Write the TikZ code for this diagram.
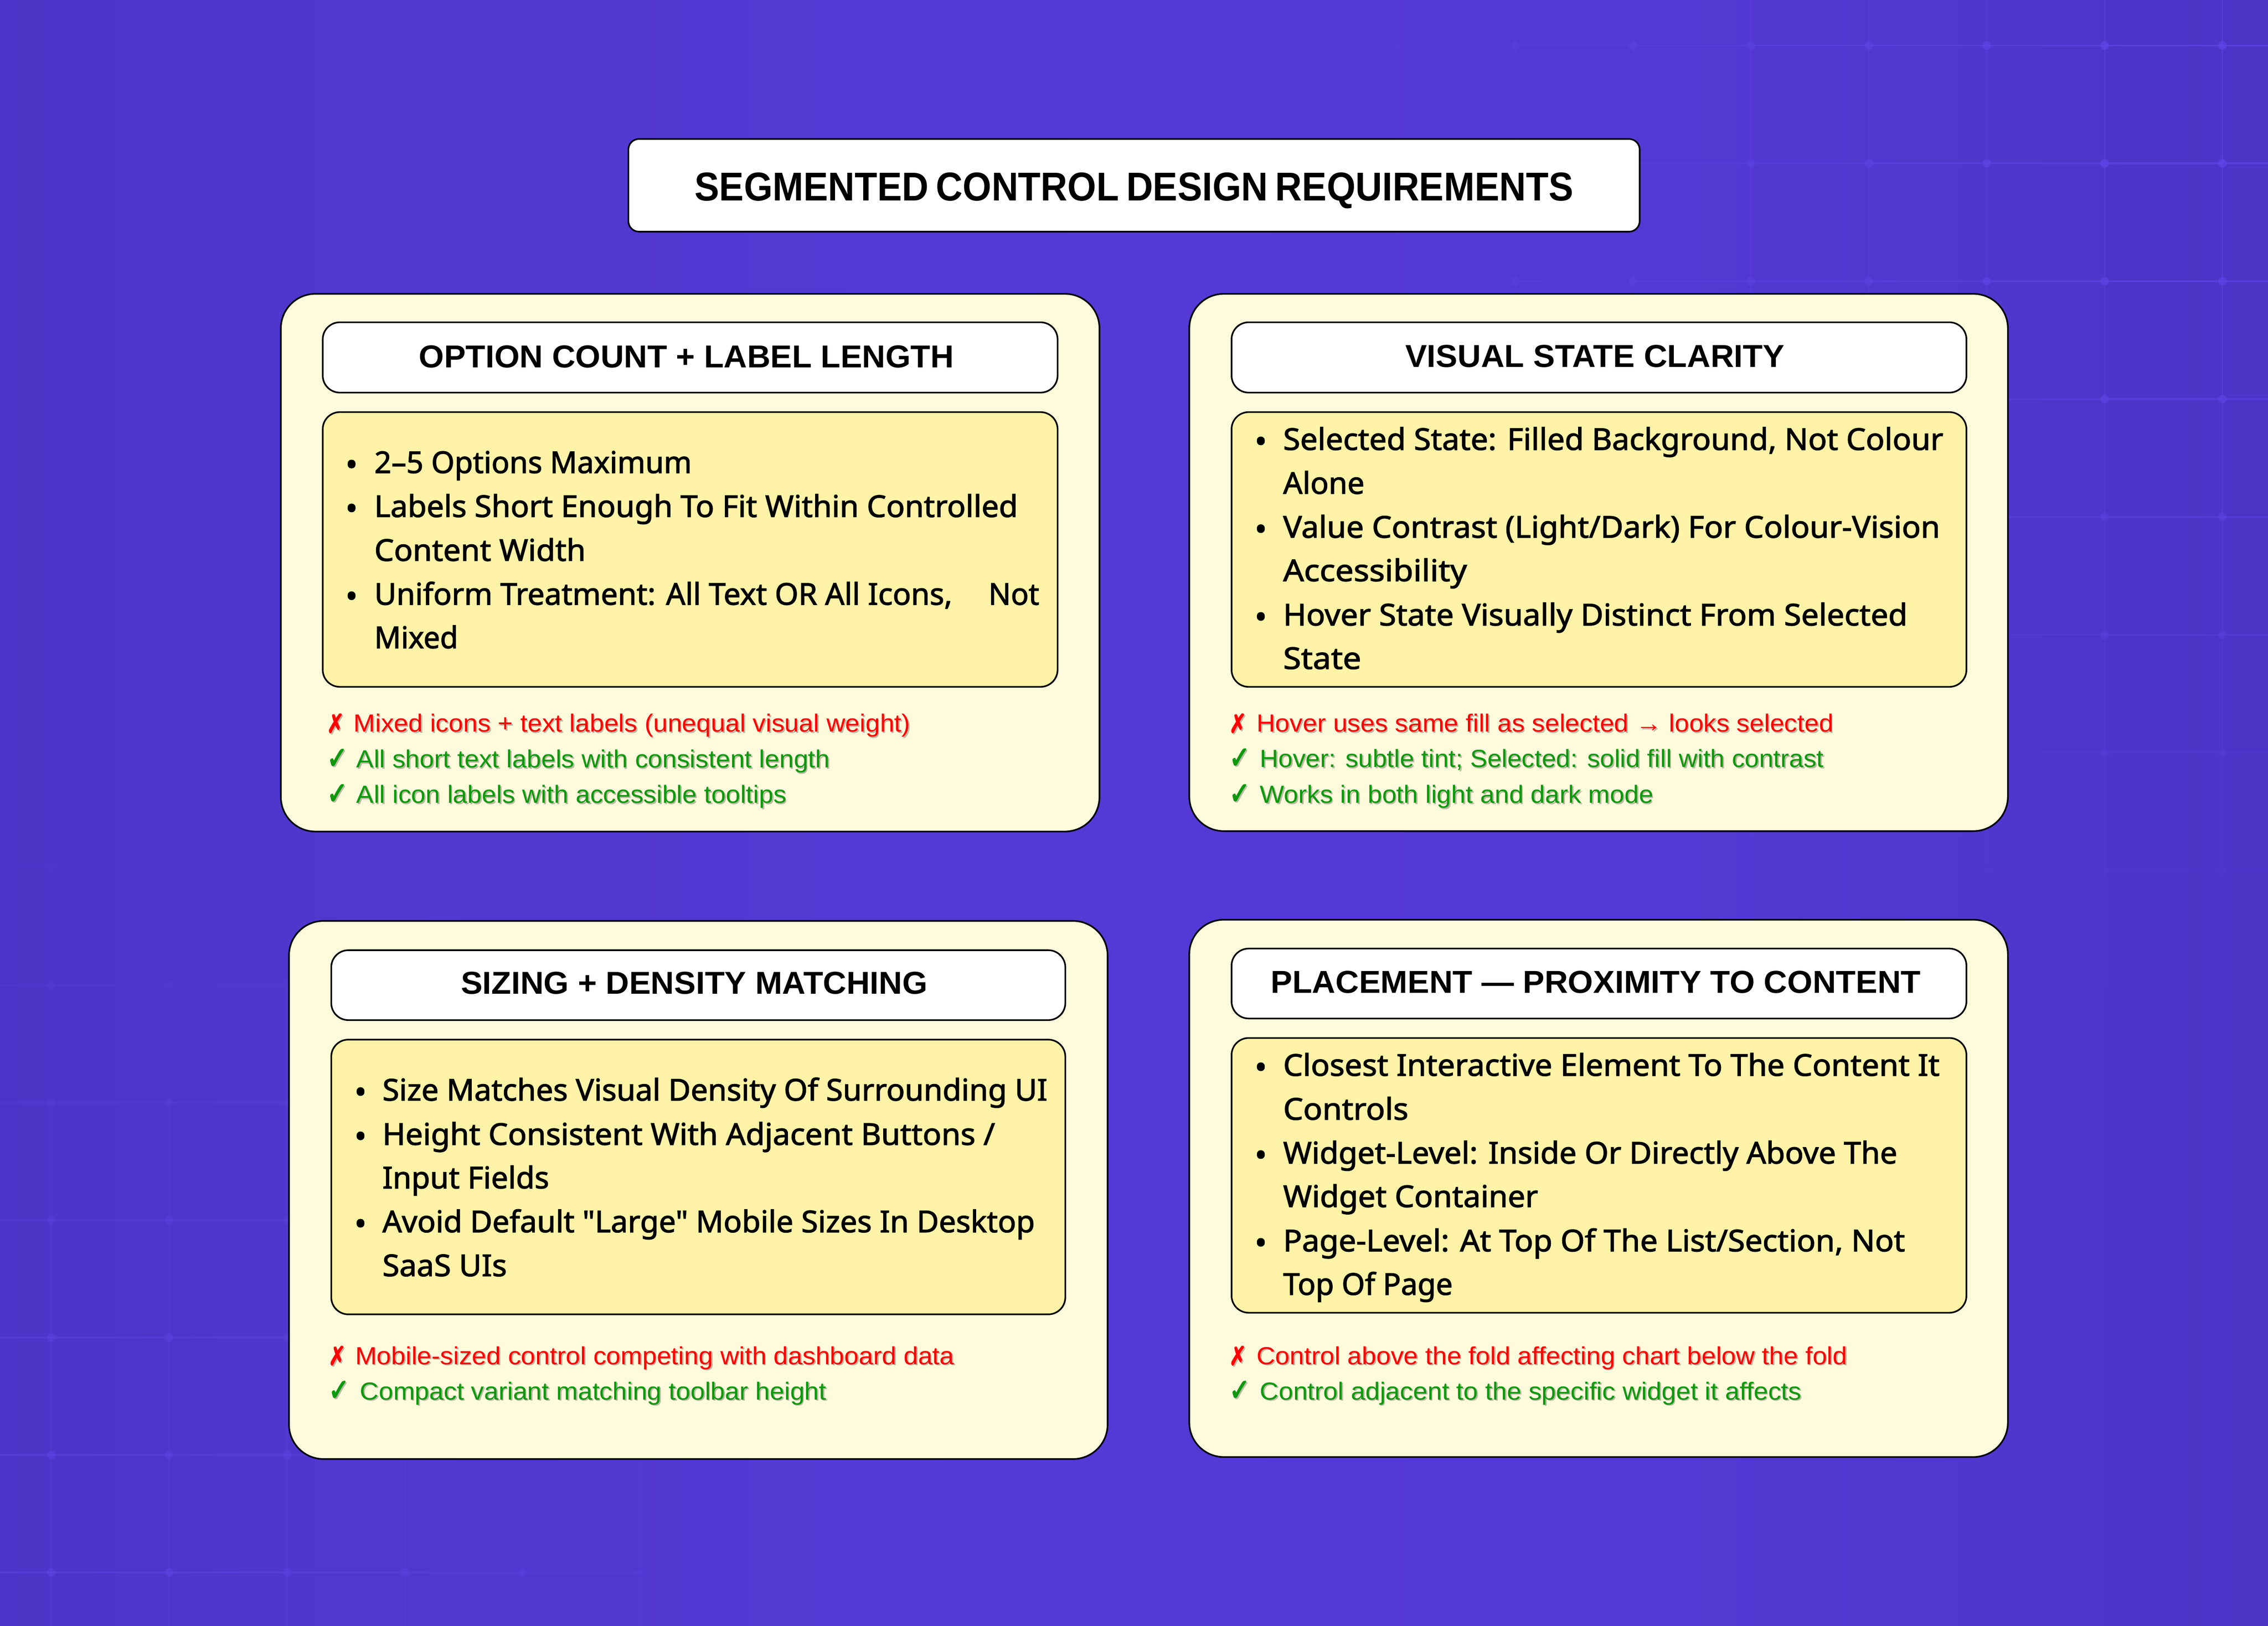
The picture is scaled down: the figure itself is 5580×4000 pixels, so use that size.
\documentclass[tikz,border=0pt]{standalone}
\usepackage{fontspec}
\usepackage{graphicx}
\setmainfont{Liberation Sans}
\newfontfamily\bodyf[FakeBold=2]{Noto Sans}
\newfontfamily\headf{Liberation Sans}[BoldFont={Liberation Sans Bold}]
\newfontfamily\notef{Liberation Sans}
\newfontfamily\symf[FakeBold=3]{DejaVu Sans}
\definecolor{gridc}{HTML}{6044E6}
\definecolor{cardc}{HTML}{FEFADC}
\definecolor{bodyc}{HTML}{FEF3A7}
\definecolor{redc}{HTML}{FF0000}
\definecolor{greenc}{HTML}{0C990C}
\definecolor{shadc}{HTML}{BDB9A5}
\definecolor{bgA}{HTML}{452FB8}
\definecolor{bgB}{HTML}{4A32C3}
\definecolor{bgC}{HTML}{5038CF}
\definecolor{bgD}{HTML}{5439D5}
\definecolor{bgE}{HTML}{5339D3}
\definecolor{bgF}{HTML}{4A33C4}
\definecolor{bgG}{HTML}{462FBC}
\pgfdeclarehorizontalshading{bgshade}{100bp}{
 color(0bp)=(bgA); color(20bp)=(bgB); color(33bp)=(bgC); color(50bp)=(bgD); color(62bp)=(bgE); color(78bp)=(bgF); color(90bp)=(bgG); color(100bp)=(bgA)}
\tikzset{
 cardbox/.style={draw=black,line width=4pt,fill=cardc,rounded corners=85pt,inner sep=0,outer sep=0,anchor=north west},
 headbox/.style={draw=black,line width=4pt,fill=white,rounded corners=42pt,inner sep=0,outer sep=0,anchor=north west},
 mainbox/.style={draw=black,line width=4pt,fill=white,rounded corners=26pt,inner sep=0,outer sep=0,anchor=north west},
 listbox/.style={draw=black,line width=4pt,fill=bodyc,rounded corners=42pt,inner sep=0,outer sep=0,anchor=north west},
 headtxt/.style={inner sep=0,outer sep=0,anchor=base,font=\headf\bfseries\fontsize{78}{78}\selectfont,text=black},
 maintxt/.style={inner sep=0,outer sep=0,anchor=base,font=\headf\bfseries\fontsize{99}{99}\selectfont,text=black},
 bodytxt/.style={inner sep=0,outer sep=0,anchor=base west,font=\bodyf\fontsize{74}{74}\selectfont,text=black},
 bullettxt/.style={inner sep=0,outer sep=0,anchor=base,font=\bodyf\fontsize{80}{80}\selectfont,text=black},
 notetxt/.style={inner sep=0,outer sep=0,anchor=base west,font=\notef\fontsize{61}{61}\selectfont},
 marktxt/.style={inner sep=0,outer sep=0,anchor=base west,font=\symf\fontsize{64}{64}\selectfont}
}
\newcommand{\xmk}{\scalebox{.8}[1.0]{✗}}
\newcommand{\cmk}{\scalebox{.96}[1.18]{✓}}
% box: style,name,x1,y1,x2,y2
\newcommand{\panel}[6]{\node[#1,minimum width={(#5-#3)*1pt},minimum height={(#6-#4)*1pt}] (#2) at (#3,#4) {};}
% fitted text: style,name,x,y,width,text
\newcommand{\fit}[6]{\node[#1] (#2) at (#3,#4) {\resizebox{#5pt}{\height}{#6}};}
% bullet + body line
\newcommand{\bul}[3]{\node[bullettxt] (#1) at (#2,{#3+7}) {•};}
\newcommand{\bline}[5]{\fit{bodytxt}{#1}{#2}{#3}{#4}{#5}}
% note line: name,mark,colour,markx,textx,y,width,text
\newcommand{\noteline}[8]{%
 \node[marktxt,text=shadc] (#1ms) at ({#4-4},{#6+5}) {#2};
 \node[marktxt,text=#3] (#1m) at ({#4-7},{#6+2}) {#2};
 \fit{notetxt,text=shadc}{#1s}{{#5+3}}{{#6+3}}{#7}{#8}
 \fit{notetxt,text=#3}{#1}{#5}{#6}{#7}{#8}}
\begin{document}
\begin{tikzpicture}[x=1pt,y=-1pt]
\useasboundingbox (0,0) rectangle (5580,4000);
\shade[shading=bgshade] (0,0) rectangle (5580,4000);
\begin{scope}
\clip (0,0) rectangle (5580,4000);
% top right grid
\foreach \i in {0,...,8}{\foreach \j in {0,...,8}{
  \pgfmathsetmacro\gx{3148+290*\i}\pgfmathsetmacro\gy{-178+290*\j}
  \pgfmathsetmacro\ga{max(0,min(0.75,0.95*(1-veclen(5580-\gx,\gy)/2500)))}
  \pgfmathsetmacro\gb{0.7*\ga}
  \ifdim\ga pt>0.01pt
  \draw[gridc,line width=4pt,opacity=\ga] (\gx,\gy) -- ++(290,0);
  \draw[gridc,line width=3pt,opacity=\gb] (\gx,\gy) -- ++(0,290);
  \fill[gridc,opacity=\ga] (\gx,\gy) circle (10.5);
  \fi
}}
% bottom left grid
\foreach \i in {0,...,6}{\foreach \j in {0,...,7}{
  \pgfmathsetmacro\gx{-164+290*\i}\pgfmathsetmacro\gy{1846+289*\j}
  \pgfmathsetmacro\ga{max(0,min(0.5,0.65*(1-veclen(\gx,4000-\gy)/2100)))}
  \pgfmathsetmacro\gb{0.7*\ga}
  \ifdim\ga pt>0.01pt
  \draw[gridc,line width=4pt,opacity=\ga] (\gx,\gy) -- ++(290,0);
  \draw[gridc,line width=3pt,opacity=\gb] (\gx,\gy) -- ++(0,289);
  \fill[gridc,opacity=\ga] (\gx,\gy) circle (10.5);
  \fi
}}
\end{scope}
% main title
\panel{mainbox}{titlebox}{1546}{342}{4034}{570}
\fit{maintxt}{titletxt}{2790}{494}{2162}{\spaceskip=.2em SEGMENTED CONTROL DESIGN REQUIREMENTS}
% card 1
\panel{cardbox}{cardA}{691}{723}{2705}{2046}
\panel{headbox}{headA}{794}{793}{2602}{966}
\panel{listbox}{listA}{794}{1014}{2602}{1690}
\fit{headtxt}{headAt}{1689}{904}{1316}{OPTION COUNT + LABEL LENGTH}
\bul{ba1}{865}{1164}\bline{a1}{921}{1164}{781}{2–5 Options Maximum}
\bul{ba2}{865}{1272}\bline{a2}{921}{1272}{1583}{Labels Short Enough To Fit Within Controlled}
\bline{a3}{921}{1380}{520}{Content Width}
\bul{ba3}{865}{1488}\bline{a4}{921}{1488}{1422}{Uniform Treatment: All Text OR All Icons,}
\bline{a5}{2432}{1488}{125}{Not}
\bline{a6}{921}{1595}{206}{Mixed}
\noteline{na1}{\xmk}{redc}{811}{870}{1801}{1370}{Mixed icons + text labels (unequal visual weight)}
\noteline{na2}{\cmk}{greenc}{811}{877}{1889}{1165}{All short text labels with consistent length}
\noteline{na3}{\cmk}{greenc}{811}{877}{1976}{1058}{All icon labels with accessible tooltips}
% card 2
\panel{cardbox}{cardB}{2926}{723}{4940}{2045}
\panel{headbox}{headB}{3030}{793}{4838}{966}
\panel{listbox}{listB}{3030}{1014}{4838}{1690}
\fit{headtxt}{headBt}{3924}{903}{933}{VISUAL STATE CLARITY}
\bul{bb1}{3102}{1107}\bline{b1}{3157}{1107}{1624}{Selected State: Filled Background, Not Colour}
\bline{b2}{3157}{1215}{200}{Alone}
\bul{bb2}{3102}{1323}\bline{b3}{3157}{1323}{1616}{Value Contrast (Light/Dark) For Colour-Vision}
\bline{b4}{3157}{1430}{452}{Accessibility}
\bul{bb3}{3102}{1539}\bline{b5}{3157}{1539}{1536}{Hover State Visually Distinct From Selected}
\bline{b6}{3157}{1646}{192}{State}
\noteline{nb1}{\xmk}{redc}{3031}{3092}{1801}{1419}{Hover uses same fill as selected → looks selected}
\noteline{nb2}{\cmk}{greenc}{3031}{3100}{1888}{1387}{Hover: subtle tint; Selected: solid fill with contrast}
\noteline{nb3}{\cmk}{greenc}{3031}{3100}{1976}{968}{Works in both light and dark mode}
% card 3
\panel{cardbox}{cardC}{711}{2266}{2725}{3590}
\panel{headbox}{headC}{815}{2338}{2621}{2510}
\panel{listbox}{listC}{815}{2558}{2621}{3234}
\fit{headtxt}{headCt}{1708}{2446}{1148}{SIZING + DENSITY MATCHING}
\bul{bc1}{887}{2708}\bline{c1}{941}{2708}{1636}{Size Matches Visual Density Of Surrounding UI}
\bul{bc2}{887}{2817}\bline{c2}{941}{2817}{1507}{Height Consistent With Adjacent Buttons /}
\bline{c3}{941}{2924}{410}{Input Fields}
\bul{bc3}{887}{3032}\bline{c4}{941}{3032}{1605}{Avoid Default "Large" Mobile Sizes In Desktop}
\bline{c5}{941}{3140}{306}{SaaS UIs}
\noteline{nc1}{\xmk}{redc}{815}{874}{3357}{1474}{Mobile-sized control competing with dashboard data}
\noteline{nc2}{\cmk}{greenc}{815}{886}{3444}{1147}{Compact variant matching toolbar height}
% card 4
\panel{cardbox}{cardD}{2926}{2263}{4940}{3585}
\panel{headbox}{headD}{3030}{2334}{4838}{2506}
\panel{listbox}{listD}{3030}{2554}{4838}{3230}
\fit{headtxt}{headDt}{3926}{2443}{1599}{PLACEMENT — PROXIMITY TO CONTENT}
\bul{bd1}{3102}{2647}\bline{d1}{3157}{2647}{1615}{Closest Interactive Element To The Content It}
\bline{d2}{3157}{2755}{308}{Controls}
\bul{bd2}{3102}{2863}\bline{d3}{3157}{2863}{1511}{Widget-Level: Inside Or Directly Above The}
\bline{d4}{3157}{2970}{627}{Widget Container}
\bul{bd3}{3102}{3079}\bline{d5}{3157}{3079}{1530}{Page-Level: At Top Of The List/Section, Not}
\bline{d6}{3157}{3186}{417}{Top Of Page}
\noteline{nd1}{\xmk}{redc}{3031}{3092}{3357}{1453}{Control above the fold affecting chart below the fold}
\noteline{nd2}{\cmk}{greenc}{3031}{3100}{3444}{1332}{Control adjacent to the specific widget it affects}
\end{tikzpicture}
\end{document}
